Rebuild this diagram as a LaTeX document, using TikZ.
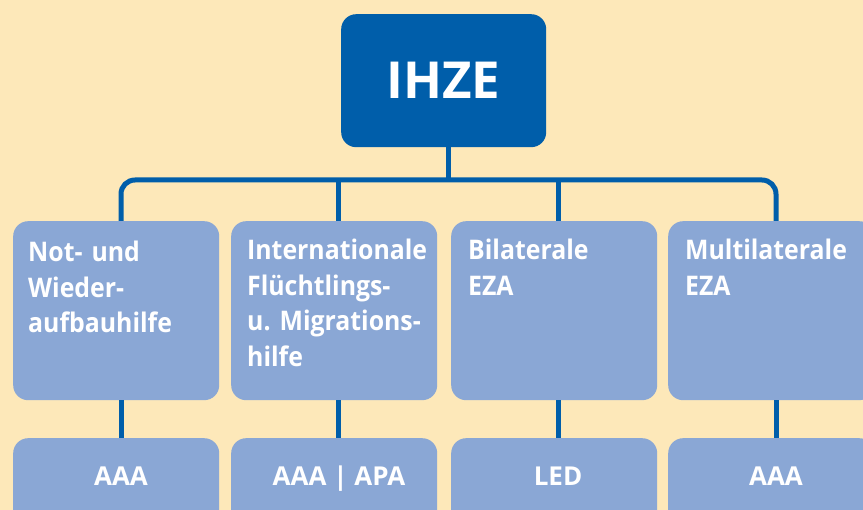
\documentclass[tikz,border=0pt]{standalone}
\usepackage{fontspec}
\setmainfont{Open Sans}
\newfontfamily\narrowsans{Open Sans}[FakeStretch=0.92]
\definecolor{bgy}{RGB}{253,232,185}
\definecolor{dkblue}{RGB}{0,94,170}
\definecolor{ltblue}{RGB}{138,167,213}
\begin{document}
\frenchspacing
\begin{tikzpicture}[x=1pt,y=-1pt,
  topbox/.style={fill=dkblue, rounded corners=15pt, minimum width=205pt, minimum height=133pt, inner sep=0pt, anchor=north west},
  midbox/.style={fill=ltblue, rounded corners=15pt, minimum width=206pt, minimum height=179pt, inner sep=0pt, anchor=north west},
  lowbox/.style={fill=ltblue, rounded corners=15pt, minimum width=206pt, minimum height=110pt, inner sep=0pt, anchor=north west},
  midtext/.style={text=white, font=\narrowsans\bfseries\fontsize{27}{35.5}\selectfont\frenchspacing, align=left, text width=200pt, inner sep=0pt, anchor=base west},
  lowtext/.style={text=white, font=\bfseries\fontsize{26}{30}\selectfont, inner sep=0pt, anchor=base},
  conn/.style={draw=dkblue, line width=5pt}
]
\fill[bgy] (0,0) rectangle (863,510);
\useasboundingbox (0,0) rectangle (863,510);
\clip (0,0) rectangle (863,510);

% top box
\node[topbox] (ihze) at (341,14) {};
\node[text=white, font=\bfseries\fontsize{51}{56}\selectfont, anchor=base, inner sep=0pt] (ihzet) at (443.5,99) {IHZE};

% middle boxes
\node[midbox] (m1) at (13,221) {};
\node[midbox] (m2) at (231,221) {};
\node[midbox] (m3) at (451,221) {};
\node[midbox] (m4) at (668,221) {};

\node[midtext] (t1) at (28,262) {Not- und\\Wieder-\\aufbauhilfe};
\node[midtext] (t2) at (247,260) {Internationale\\Flüchtlings-\\u. Migrations-\\hilfe};
\node[midtext] (t3) at (468,260) {Bilaterale\\EZA};
\node[midtext] (t4) at (685,260) {Multilaterale\\EZA};

% lower boxes
\node[lowbox] (l1) at (13,438) {};
\node[lowbox] (l2) at (231,438) {};
\node[lowbox] (l3) at (451,438) {};
\node[lowbox] (l4) at (668,438) {};

\node[lowtext] (u1) at (121,486) {AAA};
\node[lowtext] (u2) at (339,486) {AAA | APA};
\node[lowtext] (u3) at (558,486) {LED};
\node[lowtext] (u4) at (776,486) {AAA};

% connector coordinates
\coordinate (hub) at (448,180);
\coordinate (x1) at (121,0);
\coordinate (x2) at (338,0);
\coordinate (x3) at (558,0);
\coordinate (x4) at (776,0);

\draw[conn] (ihze.south -| hub) -- (hub);
\draw[conn, rounded corners=14pt] (m1.north -| x1) |- (hub) -| (m4.north -| x4);
\draw[conn] (hub -| x2) -- (m2.north -| x2);
\draw[conn] (hub -| x3) -- (m3.north -| x3);

\draw[conn] (m1.south -| x1) -- (l1.north -| x1);
\draw[conn] (m2.south -| x2) -- (l2.north -| x2);
\draw[conn] (m3.south -| x3) -- (l3.north -| x3);
\draw[conn] (m4.south -| x4) -- (l4.north -| x4);
\end{tikzpicture}
\end{document}
